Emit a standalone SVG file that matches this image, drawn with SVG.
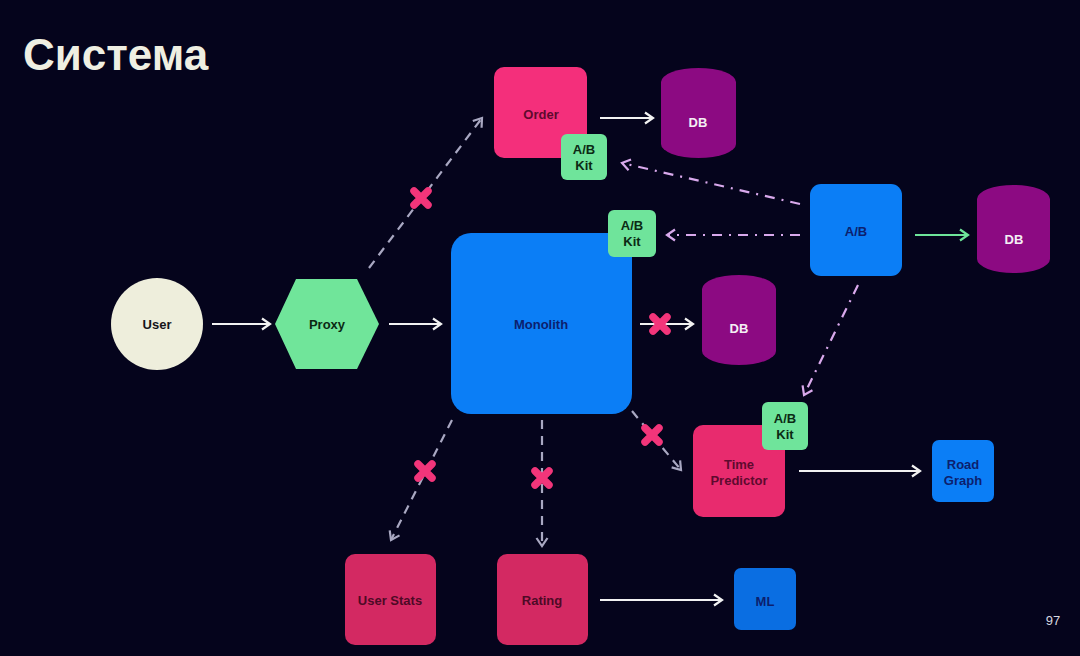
<svg xmlns="http://www.w3.org/2000/svg" width="1080" height="656" viewBox="0 0 1080 656">
<defs>
<style>
text{font-family:"Liberation Sans",Arial,sans-serif;font-weight:bold;text-anchor:middle;}
.lbl{font-size:13px;}
.solid{stroke:#f2f2f2;stroke-width:2.2;fill:none;}
.green{stroke:#6ee59a;stroke-width:2.2;fill:none;}
.dash{stroke:#a9a8c2;stroke-width:2.2;fill:none;stroke-dasharray:9 7;}
.dashdot{stroke:#d9a9ec;stroke-width:2.2;fill:none;stroke-dasharray:10 7 2 7;}
.kit{fill:#6fe49b;}
.blue{fill:#0b7ef6;}
.db{fill:#8c0a82;}
</style>
<marker id="aw" markerUnits="userSpaceOnUse" markerWidth="14" markerHeight="14" refX="11" refY="7" orient="auto"><path d="M3,1.5 L11,7 L3,12.5" fill="none" stroke="#f2f2f2" stroke-width="2.2"/></marker>
<marker id="ag" markerUnits="userSpaceOnUse" markerWidth="14" markerHeight="14" refX="11" refY="7" orient="auto"><path d="M3,1.5 L11,7 L3,12.5" fill="none" stroke="#6ee59a" stroke-width="2.2"/></marker>
<marker id="ad" markerUnits="userSpaceOnUse" markerWidth="14" markerHeight="14" refX="11" refY="7" orient="auto"><path d="M3,1.5 L11,7 L3,12.5" fill="none" stroke="#a9a8c2" stroke-width="2.2"/></marker>
<marker id="ap" markerUnits="userSpaceOnUse" markerWidth="14" markerHeight="14" refX="11" refY="7" orient="auto"><path d="M3,1.5 L11,7 L3,12.5" fill="none" stroke="#d9a9ec" stroke-width="2.2"/></marker>
<g id="xmark"><path d="M-7,-7 L7,7 M7,-7 L-7,7" stroke="#f2357a" stroke-width="7.5" stroke-linecap="round"/></g>
</defs>
<rect width="1080" height="656" fill="#05041c"/>
<text x="23" y="70" style="font-size:44px;text-anchor:start;fill:#efefe2">Система</text>
<text x="1053" y="625" style="font-size:13px;font-weight:normal;fill:#d8d8e0">97</text>

<g id="connectors">
<line class="solid" x1="212" y1="324" x2="270" y2="324" marker-end="url(#aw)"/>
<line class="solid" x1="389" y1="324" x2="441" y2="324" marker-end="url(#aw)"/>
<line class="solid" x1="600" y1="118" x2="653" y2="118" marker-end="url(#aw)"/>
<line class="solid" x1="640" y1="324" x2="693" y2="324" marker-end="url(#aw)"/>
<line class="solid" x1="799" y1="471" x2="920" y2="471" marker-end="url(#aw)"/>
<line class="solid" x1="600" y1="600" x2="722" y2="600" marker-end="url(#aw)"/>
<line class="green" x1="915" y1="235" x2="968" y2="235" marker-end="url(#ag)"/>
<line class="dash" x1="369" y1="268" x2="482" y2="118" marker-end="url(#ad)"/>
<line class="dash" x1="632" y1="411" x2="681" y2="470" marker-end="url(#ad)"/>
<line class="dash" x1="452" y1="420" x2="391" y2="540" marker-end="url(#ad)"/>
<line class="dash" x1="542" y1="420" x2="542" y2="546" marker-end="url(#ad)"/>
<line class="dashdot" x1="800" y1="204" x2="622" y2="163" marker-end="url(#ap)"/>
<line class="dashdot" x1="800" y1="235" x2="667" y2="235" marker-end="url(#ap)"/>
<line class="dashdot" x1="858" y1="285" x2="804" y2="395" marker-end="url(#ap)"/>
<use href="#xmark" x="421" y="198"/>
<use href="#xmark" x="660" y="324"/>
<use href="#xmark" x="652" y="435"/>
<use href="#xmark" x="425" y="471"/>
<use href="#xmark" x="542" y="478"/>
</g>

<g id="user"><circle cx="157" cy="324" r="46" fill="#eeeedc"/><text class="lbl" x="157" y="329" fill="#15151a">User</text></g>
<g id="proxy"><polygon points="275,324 296,279 357,279 379,324 357,369 296,369" fill="#70e59a"/><text class="lbl" x="327" y="329" fill="#0b2a14">Proxy</text></g>
<g id="monolith"><rect class="blue" x="451" y="233" width="181" height="181" rx="20"/><text class="lbl" x="541" y="329" fill="#0c1f6e">Monolith</text></g>
<g id="monolith-kit"><rect class="kit" x="608" y="210" width="48" height="47" rx="6"/><text class="lbl" x="632" y="230" fill="#0b2a14">A/B</text><text class="lbl" x="632" y="246" fill="#0b2a14">Kit</text></g>
<g id="order"><rect x="494" y="67" width="93" height="91" rx="10" fill="#f42f7b"/><text class="lbl" x="541" y="119" fill="#5e0a2e">Order</text></g>
<g id="order-kit"><rect class="kit" x="561" y="134" width="46" height="46" rx="6"/><text class="lbl" x="584" y="154" fill="#0b2a14">A/B</text><text class="lbl" x="584" y="170" fill="#0b2a14">Kit</text></g>
<g id="db-order"><path class="db" d="M661,82 A37.5,14 0 0 1 736,82 V144 A37.5,14 0 0 1 661,144 Z"/><text class="lbl" x="698" y="127" fill="#f4eef4">DB</text></g>
<g id="db-monolith"><path class="db" d="M702,289 A37,14 0 0 1 776,289 V351 A37,14 0 0 1 702,351 Z"/><text class="lbl" x="739" y="333" fill="#f4eef4">DB</text></g>
<g id="ab"><rect class="blue" x="810" y="184" width="92" height="92" rx="11"/><text class="lbl" x="856" y="236" fill="#0c1f6e">A/B</text></g>
<g id="db-ab"><path class="db" d="M977,199 A36.5,14 0 0 1 1050,199 V259 A36.5,14 0 0 1 977,259 Z"/><text class="lbl" x="1014" y="244" fill="#f4eef4">DB</text></g>
<g id="time-predictor"><rect x="693" y="425" width="92" height="92" rx="10" fill="#e82b6e"/><text class="lbl" x="739" y="469" fill="#5e0a2e">Time</text><text class="lbl" x="739" y="485" fill="#5e0a2e">Predictor</text></g>
<g id="tp-kit"><rect class="kit" x="762" y="402" width="46" height="48" rx="6"/><text class="lbl" x="785" y="423" fill="#0b2a14">A/B</text><text class="lbl" x="785" y="439" fill="#0b2a14">Kit</text></g>
<g id="road-graph"><rect class="blue" x="932" y="440" width="62" height="62" rx="7"/><text class="lbl" x="963" y="469" fill="#0c1f6e">Road</text><text class="lbl" x="963" y="485" fill="#0c1f6e">Graph</text></g>
<g id="user-stats"><rect x="345" y="554" width="91" height="91" rx="10" fill="#d32962"/><text class="lbl" x="390" y="605" fill="#4e0a26">User Stats</text></g>
<g id="rating"><rect x="497" y="554" width="91" height="91" rx="10" fill="#d32962"/><text class="lbl" x="542" y="605" fill="#4e0a26">Rating</text></g>
<g id="ml"><rect x="734" y="568" width="62" height="62" rx="7" fill="#0a6ee2"/><text class="lbl" x="765" y="606" fill="#0c1f6e">ML</text></g>
</svg>
